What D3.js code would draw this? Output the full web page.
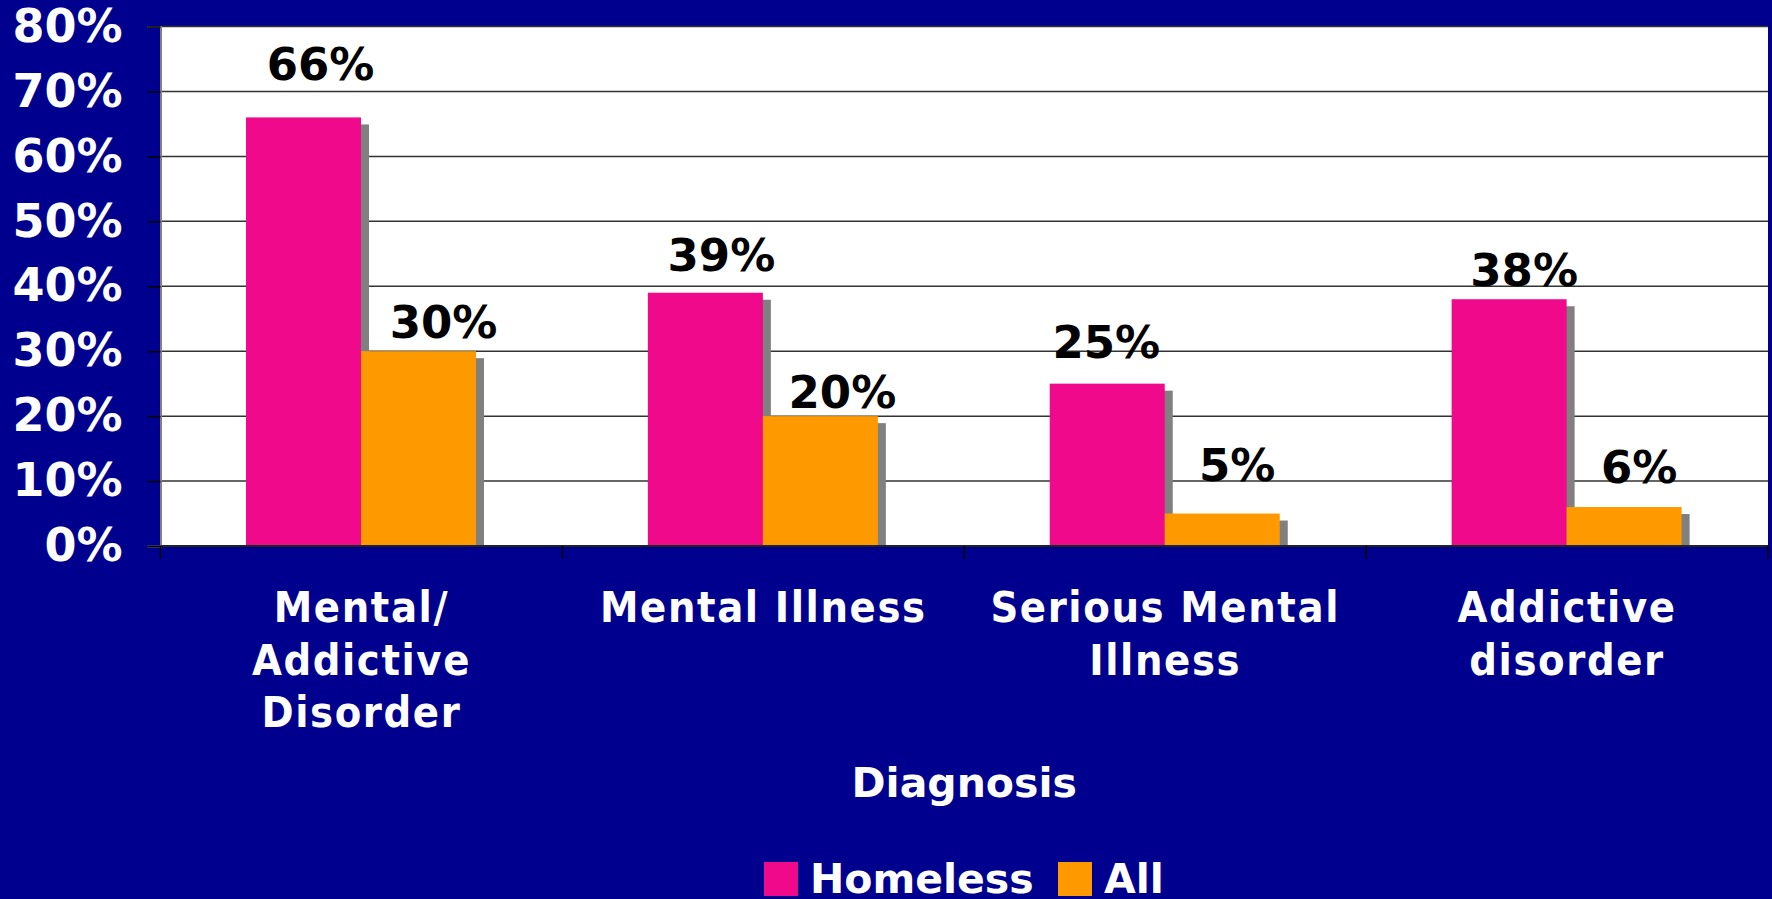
<!DOCTYPE html>
<html>
<head>
<meta charset="utf-8">
<script src="https://cdn.jsdelivr.net/npm/d3@7"></script>
<style>
  html, body { margin: 0; padding: 0; background: #00008e; }
  svg { display: block; }
</style>
</head>
<body>
<script>
var categories = ["Mental/\nAddictive\nDisorder", "Mental Illness", "Serious Mental\nIllness", "Addictive\ndisorder"];
var series = ["Homeless", "All"];
var homeless = [66, 39, 25, 38];
var all = [30, 20, 5, 6];
var yTicks = [0, 10, 20, 30, 40, 50, 60, 70, 80];
var colors = ["#f0098a", "#ff9900"];

// hand-placed value labels: gap above bar top and sideways nudge
var labelGap = [[37, 13], [22, 8], [26, 33], [13, 24]];
var labelDx = [[17, 25], [16, 22], [-1, 15], [15, 15]];

var w = 1772, h = 899;
var plotL = 160.5, plotR = 1768, plotT = 26.5, plotB = 546;

var svg = d3.select("body")
            .append("svg")
              .attr("width", w)
              .attr("height", h);

var x = d3.scaleBand()
  .domain(categories)
  .range([plotL, plotR])
  .padding(0);

var xs = d3.scaleBand()
  .domain(series)
  .range([85.5, 315.5]);

var y = d3.scaleLinear()
  .domain([0, 80])
  .range([plotB, plotT]);

var rows = categories.map(function(c, i) {
  return [
    {cat: c, s: series[0], v: homeless[i], ci: i, si: 0},
    {cat: c, s: series[1], v: all[i], ci: i, si: 1}
  ];
});
var bars = d3.merge(rows);

// plot background
svg.append("rect")
  .attr("x", plotL)
  .attr("y", plotT)
  .attr("width", plotR - plotL)
  .attr("height", plotB - plotT)
  .attr("fill", "#ffffff");

// gridlines
svg.append("g")
  .selectAll("line")
  .data(yTicks)
  .enter()
  .append("line")
    .attr("x1", plotL)
    .attr("x2", plotR)
    .attr("y1", function(d) { return y(d); })
    .attr("y2", function(d) { return y(d); })
    .attr("stroke", "#333333")
    .attr("stroke-width", 1.5);

// shadows go first so bars sit on top
svg.append("g")
  .selectAll("rect")
  .data(bars)
  .enter()
  .append("rect")
    .attr("x", function(d) { return x(d.cat) + xs(d.s) + 8; })
    .attr("y", function(d) { return y(d.v) + 7; })
    .attr("width", xs.bandwidth())
    .attr("height", function(d) { return Math.max(0, plotB - y(d.v) - 7); })
    .attr("fill", "#808080");

svg.append("g")
  .selectAll("rect")
  .data(bars)
  .enter()
  .append("rect")
    .attr("x", function(d) { return x(d.cat) + xs(d.s); })
    .attr("y", function(d) { return y(d.v); })
    .attr("width", xs.bandwidth())
    .attr("height", function(d) { return plotB - y(d.v); })
    .attr("fill", function(d) { return colors[d.si]; });

// value labels
svg.append("g")
  .selectAll("text")
  .data(bars)
  .enter()
  .append("text")
    .text(function(d) { return d.v + "%"; })
    .attr("text-anchor", "middle")
    .attr("x", function(d) { return x(d.cat) + xs(d.s) + xs.bandwidth() / 2 + labelDx[d.ci][d.si]; })
    .attr("y", function(d) { return y(d.v) - labelGap[d.ci][d.si]; })
    .style("font-family", "'DejaVu Sans', Verdana, sans-serif")
    .style("font-weight", "bold")
    .style("font-size", "45px")
    .style("fill", "#000000");

// y axis
var yAxis = svg.append("g")
  .attr("transform", "translate(" + plotL + ",0)")
  .call(d3.axisLeft(y)
    .tickValues(yTicks)
    .tickSize(13)
    .tickPadding(25)
    .tickFormat(function(d) { return d + "%"; }));
yAxis.select(".domain").attr("stroke", "#808080").attr("stroke-width", 2);
yAxis.selectAll(".tick line").attr("stroke", "#000000").attr("stroke-width", 1.5);
yAxis.selectAll("text")
  .style("font-family", "'DejaVu Sans', Verdana, sans-serif")
  .style("font-weight", "bold")
  .style("font-size", "46px")
  .attr("fill", "#ffffff");

// category boundaries and base line
var bounds = d3.range(categories.length + 1).map(function(i) { return plotL + i * x.bandwidth(); });
svg.append("line")
  .attr("x1", plotL).attr("x2", plotR)
  .attr("y1", plotB).attr("y2", plotB)
  .attr("stroke", "#222222").attr("stroke-width", 2);
svg.append("g")
  .selectAll("line")
  .data(bounds)
  .enter()
  .append("line")
    .attr("x1", function(d) { return d; })
    .attr("x2", function(d) { return d; })
    .attr("y1", plotB)
    .attr("y2", plotB + 13)
    .attr("stroke", "#000000")
    .attr("stroke-width", 1.5);

// category labels, one tspan per line
var catLabels = svg.append("g")
  .selectAll("text")
  .data(categories)
  .enter()
  .append("text")
    .attr("text-anchor", "middle")
    .attr("x", function(d) { return x(d) + x.bandwidth() / 2; })
    .attr("y", 622)
    .style("font-family", "'DejaVu Sans Condensed', 'DejaVu Sans', sans-serif")
    .style("font-stretch", "condensed")
    .style("font-weight", "bold")
    .style("font-size", "43px")
    .style("letter-spacing", "1.6px")
    .style("fill", "#ffffff");
catLabels.each(function(d) {
  var t = d3.select(this);
  d.split("\n").forEach(function(line, i) {
    t.append("tspan")
      .attr("x", x(d) + x.bandwidth() / 2)
      .attr("dy", i === 0 ? 0 : 52.5)
      .text(line);
  });
});

// axis title
svg.append("text")
  .text("Diagnosis")
  .attr("text-anchor", "middle")
  .attr("x", (plotL + plotR) / 2)
  .attr("y", 797)
  .style("font-family", "'DejaVu Sans', Verdana, sans-serif")
  .style("font-weight", "bold")
  .style("font-size", "41px")
  .style("fill", "#ffffff");

// legend
var legendX = [764, 1058];
var legend = svg.append("g")
  .selectAll("g")
  .data(series)
  .enter()
  .append("g")
    .attr("transform", function(d, i) { return "translate(" + legendX[i] + ",862)"; });
legend.append("rect")
  .attr("width", 34)
  .attr("height", 34)
  .attr("fill", function(d, i) { return colors[i]; });
legend.append("text")
  .text(function(d) { return d; })
  .attr("x", 46)
  .attr("y", 31)
  .style("font-family", "'DejaVu Sans', Verdana, sans-serif")
  .style("font-weight", "bold")
  .style("font-size", "41px")
  .style("fill", "#ffffff");
</script>
</body>
</html>
